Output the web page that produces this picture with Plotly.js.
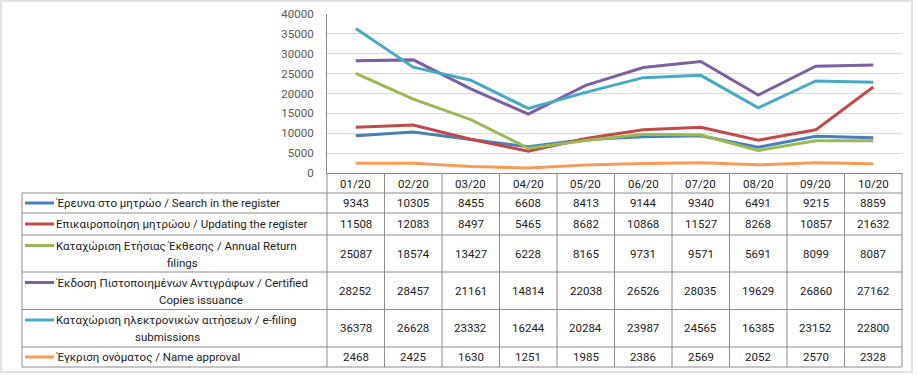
<!DOCTYPE html>
<html>
<head>
<meta charset="utf-8">
<script src="https://cdn.plot.ly/plotly-3.0.1.min.js"></script>
<style>
  html, body { margin: 0; padding: 0; background: #fff; }
  #chart { width: 917px; height: 375px; }
</style>
</head>
<body>
<div id="chart"></div>
<script>
// ---- data ----
const months = ['01/20', '02/20', '03/20', '04/20', '05/20', '06/20', '07/20', '08/20', '09/20', '10/20'];

const seriesNames = [
  'Έρευνα στο μητρώο / Search in the register',
  'Επικαιροποίηση μητρώου / Updating the register',
  'Καταχώριση Ετήσιας Έκθεσης / Annual Return<br>filings',
  'Έκδοση Πιστοποιημένων Αντιγράφων / Certified<br>Copies issuance',
  'Καταχώριση ηλεκτρονικών αιτήσεων / e-filing<br>submissions',
  'Έγκριση ονόματος / Name approval'
];

const searchRegister   = [9343, 10305, 8455, 6608, 8413, 9144, 9340, 6491, 9215, 8859];
const updatingRegister = [11508, 12083, 8497, 5465, 8682, 10868, 11527, 8268, 10857, 21632];
const annualReturns    = [25087, 18574, 13427, 6228, 8165, 9731, 9571, 5691, 8099, 8087];
const certifiedCopies  = [28252, 28457, 21161, 14814, 22038, 26526, 28035, 19629, 26860, 27162];
const eFiling          = [36378, 26628, 23332, 16244, 20284, 23987, 24565, 16385, 23152, 22800];
const nameApproval     = [2468, 2425, 1630, 1251, 1985, 2386, 2569, 2052, 2570, 2328];

const seriesValues = [searchRegister, updatingRegister, annualReturns, certifiedCopies, eFiling, nameApproval];
const colors = ['#4A7EBB', '#BE4B48', '#98B954', '#7D60A0', '#46AAC5', '#F59D56'];

// ---- geometry (pixels) ----
const W = 917, H = 375;
const PL = 327, PR = 902, PT = 14, PB = 173;
const X = px => (px - PL) / (PR - PL);
const Y = py => (PB - py) / (PB - PT);
const tableLeft = 22;
const rowLines = [193, 213, 235, 272, 309.5, 347, 367];
const secondLineCenter = [null, null, 182, 201, 167, null];
const textLeft = 54;
const font = 'Roboto, "Noto Sans", "DejaVu Sans", sans-serif';
const textSize = 11.5;

const traces = seriesValues.map((vals, i) => ({
  type: 'scatter',
  mode: 'lines',
  x: months,
  y: vals,
  name: seriesNames[i].replace('<br>', ' '),
  line: { color: colors[i], width: 3 },
  hoverinfo: 'x+y'
}));

const shapes = [];
const annotations = [];
const gridCol = '#8C8C8C';

// outer chart border
shapes.push({ type: 'rect', xref: 'paper', yref: 'paper', x0: X(1), x1: X(912), y0: Y(1), y1: Y(372),
  line: { color: '#D9D9D9', width: 1.5 }, layer: 'below' });

// horizontal table lines
rowLines.forEach(py => {
  shapes.push({ type: 'line', xref: 'paper', yref: 'paper', x0: X(tableLeft), x1: X(PR), y0: Y(py), y1: Y(py),
    line: { color: gridCol, width: 1 } });
});
// vertical lines: category boundaries
const catW = (PR - PL) / months.length;
for (let k = 0; k <= months.length; k++) {
  const px = PL + catW * k;
  shapes.push({ type: 'line', xref: 'paper', yref: 'paper', x0: X(px), x1: X(px), y0: Y(PB), y1: Y(rowLines[rowLines.length - 1]),
    line: { color: gridCol, width: 1 } });
}
// left table border
shapes.push({ type: 'line', xref: 'paper', yref: 'paper', x0: X(tableLeft), x1: X(tableLeft), y0: Y(rowLines[0]), y1: Y(rowLines[rowLines.length - 1]),
  line: { color: gridCol, width: 1 } });

// header labels
months.forEach(m => {
  annotations.push({ x: m, xref: 'x', y: Y(183.5), yref: 'paper', text: m, showarrow: false,
    xanchor: 'center', yanchor: 'middle', font: { family: font, size: textSize, color: '#222' } });
});

// rows
seriesNames.forEach((name, i) => {
  const top = rowLines[i], bot = rowLines[i + 1];
  const mid = (top + bot) / 2;
  const parts = name.split('<br>');
  const firstY = parts.length > 1 ? top + 10.5 : mid;
  // legend key
  shapes.push({ type: 'line', xref: 'paper', yref: 'paper', x0: X(25), x1: X(54), y0: Y(firstY), y1: Y(firstY),
    line: { color: colors[i], width: 3 } });
  annotations.push({ x: X(textLeft), xref: 'paper', y: Y(firstY), yref: 'paper', text: parts[0], showarrow: false,
    xanchor: 'left', yanchor: 'middle', font: { family: font, size: textSize, color: '#222' } });
  if (parts.length > 1) {
    annotations.push({ x: X(secondLineCenter[i]), xref: 'paper', y: Y(firstY + 17), yref: 'paper', text: parts[1], showarrow: false,
      xanchor: 'center', yanchor: 'middle', font: { family: font, size: textSize, color: '#222' } });
  }
  seriesValues[i].forEach((v, j) => {
    annotations.push({ x: months[j], xref: 'x', y: Y(mid), yref: 'paper', text: String(v), showarrow: false,
      xanchor: 'center', yanchor: 'middle', font: { family: font, size: textSize, color: '#222' } });
  });
});

const layout = {
  width: W, height: H,
  margin: { l: PL, r: W - PR, t: PT, b: H - PB, pad: 0 },
  paper_bgcolor: '#fff', plot_bgcolor: '#fff',
  showlegend: false,
  xaxis: {
    type: 'category', range: [-0.5, months.length - 0.5],
    showticklabels: false, showgrid: false, zeroline: false, ticks: '',
    showline: true, linecolor: '#868686', linewidth: 1, fixedrange: true
  },
  yaxis: {
    range: [0, 40000], dtick: 5000, tick0: 0, tickformat: 'd',
    showgrid: true, gridcolor: '#D9D9D9', gridwidth: 1,
    zeroline: false, showline: true, linecolor: '#868686', linewidth: 1,
    ticks: 'outside', ticklen: 10, tickcolor: 'rgba(0,0,0,0)',
    tickfont: { family: font, size: textSize, color: '#595959' },
    fixedrange: true
  },
  shapes: shapes,
  annotations: annotations
};

Plotly.newPlot('chart', traces, layout, { displayModeBar: false });
</script>
</body>
</html>
